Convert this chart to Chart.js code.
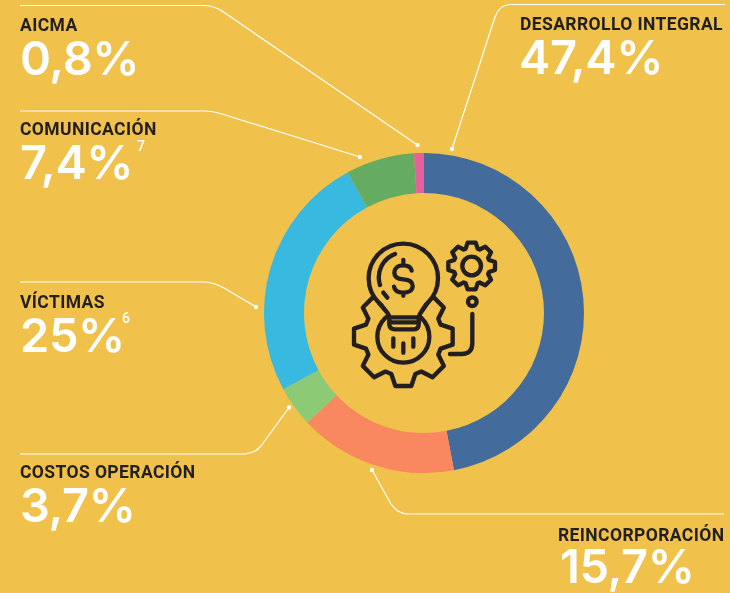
<!DOCTYPE html>
<html><head><meta charset="utf-8">
<style>
html,body{margin:0;padding:0;background:#f0c14b;width:730px;height:593px;overflow:hidden}
#wrap{position:relative;width:730px;height:593px}
canvas{position:absolute;left:0;top:0}
svg{position:absolute;left:0;top:0}
</style>
<script src="https://cdn.jsdelivr.net/npm/chart.js@4/dist/chart.umd.min.js"></script>
</head><body>
<div id="wrap">
<canvas id="c" width="730" height="593"></canvas>
<svg id="s" width="730" height="593" viewBox="0 0 730 593" fill="none"></svg>
</div>
<script>
const categories=["DESARROLLO INTEGRAL","REINCORPORACIÓN","COSTOS OPERACIÓN","VÍCTIMAS","COMUNICACIÓN","AICMA"];
// percentages as printed in the labels
const values=[47.4,15.7,3.7,25,7.4,0.8];
// slice sizes as measured on the ring in the picture (the ring differs slightly from the printed figures)
const sliceShares=[47.0,16.0,4.1,25.0,6.9,1.0];
const colors=["#436b9c","#f9875f","#8dca75","#37b9e0","#66ab62","#e7609e"];
const notes=["","","","6","7",""];
const labelX=[520,558,20,20,20,20];
const labelY=[30,541,478,308,135,31];
const valueX=[519,560,20,20,20,20];
const valueY=[74,583,522,352,179,75];
const noteX=[0,0,0,122,137,0];
const noteY=[0,0,0,323,151,0];
const leaders=[
 "M725 4.5H510Q499 5 495 17L452 149",
 "M724 514H407Q397 513 391 504L372 470",
 "M20 454H245Q255 453 261 446L289 407.5",
 "M20 282H205Q215 283 224 288L256 307",
 "M20 111H205Q212 111 222 114L360 157",
 "M20 5.5H205Q214 6 222 11L417.5 145"
];
const dots=[[452,149],[372,470],[289,407.5],[256,307],[360,157],[417.5,145]];

const textPlugin={id:'texts',afterDraw(ch){
 const x=ch.ctx;x.save();x.textBaseline='alphabetic';x.textAlign='left';
 categories.forEach((n,i)=>{
  x.fillStyle='#231f20';x.font='700 17.5px Roboto';x.letterSpacing='0.4px';
  x.fillText(n,labelX[i],labelY[i]);
  x.fillStyle='#ffffff';x.font='600 47px Inter';x.letterSpacing='-0.4px';
  x.fillText(String(values[i]).replace('.',',')+'%',valueX[i],valueY[i]);
  if(notes[i]){x.font='500 14px Roboto';x.letterSpacing='0px';x.fillText(notes[i],noteX[i],noteY[i]);}
 });
 x.restore();
}};
new Chart(document.getElementById('c'),{
 type:'doughnut',
 data:{labels:categories,datasets:[{data:sliceShares,backgroundColor:colors,borderWidth:0}]},
 options:{responsive:false,animation:false,cutout:'75%',
  layout:{padding:{left:264,right:146,top:153,bottom:120}},
  plugins:{legend:{display:false},tooltip:{enabled:false}}},
 plugins:[textPlugin]
});

function gear(cx,cy,n,rTip,rRoot,hwTip,hwRoot){
 let d='';
 for(let i=0;i<n;i++){
  const a=i*2*Math.PI/n,c=Math.cos(a),s=Math.sin(a);
  const p=(r,w)=>(cx+r*c-w*s).toFixed(1)+' '+(cy+r*s+w*c).toFixed(1);
  d+=(i?'L':'M')+p(rRoot,-hwRoot)+'L'+p(rTip,-hwTip)+'L'+p(rTip,hwTip)+'L'+p(rRoot,hwRoot);
 }
 return d+'Z';
}
const bg='#f0c14b',ink='#231f20';
let icon=`<g transform="translate(340 230) scale(.3333)" stroke="${ink}" stroke-width="13" stroke-linecap="round" stroke-linejoin="round">
<path d="${gear(190,320,8,148,112,24,36)}"/>
<circle cx="190" cy="320" r="78"/>
<path fill="${bg}" stroke="none" d="M130 225L150 262H235L252 225Z"/>
<circle cx="190" cy="145" r="104" fill="${bg}"/>
<path fill="${bg}" stroke="none" d="M118 205H262L240 240L235 262H148L142 240Z"/>
<path d="M118 220L135 240Q147 252 148 262V285Q150 298 165 298H220Q235 298 236 285V262Q238 252 248 240L262 220"/>
<path d="M148 262H236M148 277H236"/>
<path d="M160 325V350M190 340V368M220 325V350"/>
<path d="M165 72A75 75 0 0 0 120 165M130 188L142 203"/>
<path d="M215 122C213 110 203 106 190 106C172 106 163 116 163 128C163 141 175 147 190 148C206 149 218 155 218 168C218 181 206 188 190 188C175 188 164 182 162 170M190 90V106M190 188V197"/>
<path d="${gear(395,108,8,70,52,12,18)}"/>
<circle cx="395" cy="108" r="28"/>
<circle cx="397" cy="215" r="13"/>
<path d="M397 252V340Q397 372 365 372H330"/>
</g>`;
let lines=leaders.map((d,i)=>`<path d="${d}" stroke="#fff" stroke-width="1.2"/><circle cx="${dots[i][0]}" cy="${dots[i][1]}" r="2.2" fill="#fff"/>`).join('');
document.getElementById('s').innerHTML=lines+icon;
</script>
</body></html>
